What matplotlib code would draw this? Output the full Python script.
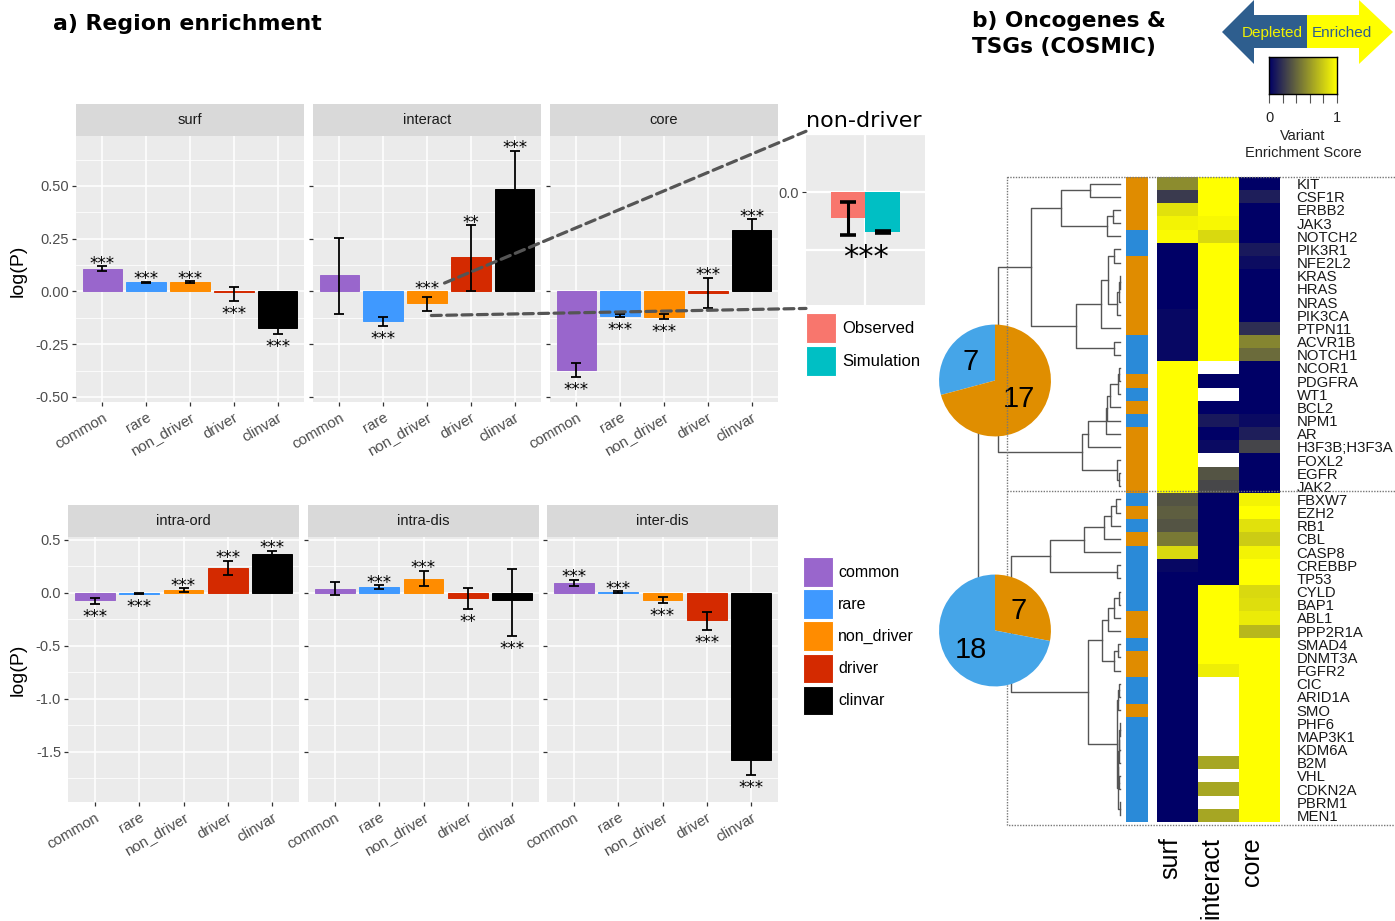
import numpy as np
import matplotlib
matplotlib.use('Agg')
import matplotlib.pyplot as plt
from matplotlib.colors import LinearSegmentedColormap, ListedColormap
from matplotlib.patches import Rectangle, Polygon, ConnectionPatch
from matplotlib.transforms import ScaledTranslation

W, H = 1395, 921
plt.rcParams['font.family'] = ['Liberation Sans', 'DejaVu Sans']

# ---------------- a) region enrichment data ----------------
categories = ['common', 'rare', 'non_driver', 'driver', 'clinvar']
cat_colors = ['#9966CC', '#3F99FF', '#FF8C00', '#D42A00', '#000000']

surf_val = [0.108, 0.044, 0.044, -0.003, -0.172]
surf_lo = [0.095, 0.041, 0.040, -0.046, -0.204]
surf_hi = [0.119, 0.047, 0.048, 0.021, -0.140]
surf_sig = ['***', '***', '***', '***', '***']
surf_side = ['up', 'up', 'up', 'down', 'down']

interact_val = [0.076, -0.138, -0.055, 0.163, 0.484]
interact_lo = [-0.106, -0.163, -0.092, 0.000, 0.302]
interact_hi = [0.253, -0.119, -0.024, 0.313, 0.666]
interact_sig = ['', '***', '***', '**', '***']
interact_side = ['up', 'down', 'up', 'up', 'up']

core_val = [-0.372, -0.114, -0.119, -0.005, 0.291]
core_lo = [-0.407, -0.122, -0.131, -0.078, 0.240]
core_hi = [-0.339, -0.108, -0.108, 0.066, 0.342]
core_sig = ['***', '***', '***', '***', '***']
core_side = ['down', 'down', 'down', 'up', 'up']

intra_ord_val = [-0.069, -0.006, 0.028, 0.236, 0.365]
intra_ord_lo = [-0.100, -0.012, 0.013, 0.173, 0.330]
intra_ord_hi = [-0.050, 0.000, 0.044, 0.305, 0.400]
intra_ord_sig = ['***', '***', '***', '***', '***']
intra_ord_side = ['down', 'down', 'up', 'up', 'up']

intra_dis_val = [0.041, 0.053, 0.129, -0.050, -0.069]
intra_dis_lo = [-0.019, 0.035, 0.063, -0.154, -0.409]
intra_dis_hi = [0.107, 0.072, 0.208, 0.044, 0.223]
intra_dis_sig = ['', '***', '***', '**', '***']
intra_dis_side = ['up', 'up', 'up', 'down', 'down']

inter_dis_val = [0.094, 0.009, -0.066, -0.258, -1.575]
inter_dis_lo = [0.069, 0.003, -0.097, -0.349, -1.720]
inter_dis_hi = [0.123, 0.015, -0.038, -0.176, -1.430]
inter_dis_sig = ['***', '***', '***', '***', '***']
inter_dis_side = ['up', 'up', 'down', 'down', 'down']

# non-driver, interact region: observed vs simulation
sim_groups = ['Observed', 'Simulation']
sim_colors = ['#F8766D', '#00BFC4']
sim_val = [-0.045, -0.069]
sim_lo = [-0.074, -0.071]
sim_hi = [-0.017, -0.067]

# ---------------- b) COSMIC genes ----------------
genes = ['KIT', 'CSF1R', 'ERBB2', 'JAK3', 'NOTCH2', 'PIK3R1', 'NFE2L2', 'KRAS',
         'HRAS', 'NRAS', 'PIK3CA', 'PTPN11', 'ACVR1B', 'NOTCH1', 'NCOR1', 'PDGFRA',
         'WT1', 'BCL2', 'NPM1', 'AR', 'H3F3B;H3F3A', 'FOXL2', 'EGFR', 'JAK2',
         'FBXW7', 'EZH2', 'RB1', 'CBL', 'CASP8', 'CREBBP', 'TP53', 'CYLD', 'BAP1',
         'ABL1', 'PPP2R1A', 'SMAD4', 'DNMT3A', 'FGFR2', 'CIC', 'ARID1A', 'SMO',
         'PHF6', 'MAP3K1', 'KDM6A', 'B2M', 'VHL', 'CDKN2A', 'PBRM1', 'MEN1']
roles = ['OG', 'OG', 'OG', 'OG', 'TSG', 'TSG', 'OG', 'OG',
         'OG', 'OG', 'OG', 'OG', 'TSG', 'TSG', 'TSG', 'OG',
         'TSG', 'OG', 'TSG', 'OG', 'OG', 'OG', 'OG', 'OG',
         'TSG', 'OG', 'TSG', 'OG', 'TSG', 'TSG', 'TSG', 'TSG', 'TSG',
         'OG', 'OG', 'TSG', 'OG', 'OG', 'TSG', 'TSG', 'OG',
         'TSG', 'TSG', 'TSG', 'TSG', 'TSG', 'TSG', 'TSG', 'TSG']
n_cluster1 = 24
nan = np.nan
surf_score = [0.55, 0.23, 0.88, 0.95, 0.98, 0.00, 0.00, 0.00,
              0.00, 0.00, 0.03, 0.03, 0.03, 0.03, 1.00, 1.00,
              1.00, 1.00, 1.00, 1.00, 1.00, 1.00, 1.00, 1.00,
              0.33, 0.37, 0.33, 0.48, 0.85, 0.03, 0.00, 0.00, 0.00,
              0.00, 0.00, 0.00, 0.00, 0.00, 0.00, 0.00, 0.00,
              0.00, 0.00, 0.00, 0.00, 0.00, 0.00, 0.00, 0.00]
interact_score = [1.00, 1.00, 1.00, 0.97, 0.85, 1.00, 1.00, 1.00,
                  1.00, 1.00, 1.00, 1.00, 1.00, 1.00, nan, 0.00,
                  nan, 0.00, 0.10, 0.00, 0.04, nan, 0.33, 0.28,
                  0.00, 0.00, 0.00, 0.00, 0.00, 0.00, 0.00, 1.00, 1.00,
                  1.00, 1.00, 1.00, 1.00, 0.93, nan, nan, nan,
                  nan, nan, nan, 0.65, nan, 0.65, nan, 0.65]
core_score = [0.00, 0.12, 0.00, 0.00, 0.00, 0.10, 0.05, 0.00,
              0.00, 0.00, 0.00, 0.18, 0.52, 0.42, 0.00, 0.00,
              0.00, 0.00, 0.04, 0.12, 0.27, 0.00, 0.00, 0.00,
              0.95, 1.00, 0.88, 0.80, 0.95, 1.00, 1.00, 0.85, 0.87,
              0.92, 0.72, 1.00, 1.00, 1.00, 1.00, 1.00, 1.00,
              1.00, 1.00, 1.00, 1.00, 1.00, 1.00, 1.00, 1.00]
score_columns = ['surf', 'interact', 'core']

# clustering tree: (left, right, merge height)
ras = ((('KRAS', 'HRAS', 0.005), 'NRAS', 0.015), 'PIK3CA', 0.03)
onc_a = (('KIT', 'CSF1R', 0.30), (('ERBB2', 'JAK3', 0.07), 'NOTCH2', 0.13), 0.59)
onc_b = (((('PIK3R1', 'NFE2L2', 0.06), ras, 0.12), 'PTPN11', 0.19),
         ('ACVR1B', 'NOTCH1', 0.06), 0.44)
nc = ((((('NCOR1', 'PDGFRA', 0.01), 'WT1', 0.02), 'BCL2', 0.10), 'NPM1', 0.13), 'AR', 0.14)
top_lower = ((nc, 'H3F3B;H3F3A', 0.32), ('FOXL2', ('EGFR', 'JAK2', 0.01), 0.03), 0.38)
cluster1 = ((onc_a, onc_b, 0.89), top_lower, 1.22)
fb = (((('FBXW7', 'EZH2', 0.04), 'RB1', 0.09), 'CBL', 0.16), 'CASP8', 0.36)
cy = ((('CYLD', 'BAP1', 0.01), 'ABL1', 0.06), 'PPP2R1A', 0.12)
sm = (('SMAD4', 'DNMT3A', 0.02), 'FGFR2', 0.06)
cic = ((('CIC', 'ARID1A', 0.01), 'SMO', 0.02),
       ((((('PHF6', 'MAP3K1', 0.005), 'KDM6A', 0.01), 'B2M', 0.015),
         ('VHL', 'CDKN2A', 0.01), 0.02), ('PBRM1', 'MEN1', 0.005), 0.025), 0.03)
cluster2 = ((fb, ('CREBBP', 'TP53', 0.03), 0.70), ((cy, sm, 0.18), cic, 0.32), 1.09)
tree = (cluster1, cluster2, 1.42)

# ---------------- layout helpers ----------------
fig = plt.figure(figsize=(W / 100, H / 100), dpi=100)


def px_axes(x0, y0, x1, y1, **kw):
    return fig.add_axes([x0 / W, 1 - y1 / H, (x1 - x0) / W, (y1 - y0) / H], **kw)


def strip(x0, x1, y0, y1, label):
    s = px_axes(x0, y0, x1, y1)
    s.set_facecolor('#D9D9D9')
    s.set_xticks([]); s.set_yticks([])
    for sp in s.spines.values():
        sp.set_visible(False)
    s.text(0.5, 0.5, label, ha='center', va='center', fontsize=10.5, color='#1A1A1A',
           transform=s.transAxes)


def bar_panel(ax, vals, lo, hi, sig, side, ylim, yt, ytl, yminor, show_y):
    x = np.arange(len(categories))
    vals, lo, hi = map(np.asarray, (vals, lo, hi))
    ax.set_facecolor('#EBEBEB')
    ax.set_axisbelow(True)
    ax.bar(x, vals, width=0.9, color=cat_colors, edgecolor=cat_colors, linewidth=0.7, zorder=2)
    ax.errorbar(x, vals, yerr=[vals - lo, hi - vals], fmt='none', ecolor='black',
                elinewidth=1.3, capsize=3.5, capthick=1.3, zorder=3)
    for i in range(len(x)):
        if not sig[i]:
            continue
        if side[i] == 'up':
            y, off = max(hi[i], vals[i], 0), 7
        else:
            y, off = min(lo[i], vals[i], 0), -8.5
        # asterisk ink sits roughly 9.5 px above the baseline
        ax.annotate(sig[i], (i, y), xytext=(0, (off - 9.5) * 0.72), textcoords='offset points',
                    ha='center', va='baseline', fontsize=12, family='DejaVu Sans', zorder=4)
    ax.set_xlim(-0.6, 4.6)
    ax.set_ylim(*ylim)
    ax.set_xticks(x)
    ax.set_xticklabels(categories, rotation=30, ha='right', rotation_mode='anchor',
                       fontsize=10.8, color='#4D4D4D')
    ax.set_yticks(yt)
    ax.set_yticks(yminor, minor=True)
    if show_y:
        ax.set_yticklabels(ytl, fontsize=10.5, color='#4D4D4D')
    else:
        ax.tick_params(axis='y', which='major', length=0, labelleft=False)
    ax.grid(which='major', color='white', linewidth=1.1)
    ax.grid(which='minor', axis='y', color='white', linewidth=0.55)
    ax.tick_params(which='major', length=3, width=0.9, color='#333333', pad=2)
    ax.tick_params(axis='x', pad=3)
    ax.tick_params(which='minor', length=0)
    for sp in ax.spines.values():
        sp.set_visible(False)


# ---------------- top row ----------------
top_series = [(surf_val, surf_lo, surf_hi, surf_sig, surf_side),
              (interact_val, interact_lo, interact_hi, interact_sig, interact_side),
              (core_val, core_lo, core_hi, core_sig, core_side)]
top_names = ['surf', 'interact', 'core']
top_x = [(76, 304), (313, 541), (550, 778)]
top_axes = []
for (x0, x1), name, ser in zip(top_x, top_names, top_series):
    strip(x0, x1, 104, 136, name)
    ax = px_axes(x0, 136, x1, 402)
    bar_panel(ax, *ser, ylim=(-0.524, 0.737), yt=[-0.5, -0.25, 0, 0.25, 0.5],
              ytl=['-0.50', '-0.25', '0.00', '0.25', '0.50'],
              yminor=[-0.375, -0.125, 0.125, 0.375, 0.625], show_y=(x0 == 76))
    top_axes.append(ax)

# ---------------- bottom row ----------------
bot_series = [(intra_ord_val, intra_ord_lo, intra_ord_hi, intra_ord_sig, intra_ord_side),
              (intra_dis_val, intra_dis_lo, intra_dis_hi, intra_dis_sig, intra_dis_side),
              (inter_dis_val, inter_dis_lo, inter_dis_hi, inter_dis_sig, inter_dis_side)]
bot_names = ['intra-ord', 'intra-dis', 'inter-dis']
bot_x = [(68, 299), (308, 539), (547, 778)]
for (x0, x1), name, ser in zip(bot_x, bot_names, bot_series):
    strip(x0, x1, 505, 537, name)
    ax = px_axes(x0, 537, x1, 802)
    bar_panel(ax, *ser, ylim=(-1.972, 0.528), yt=[-1.5, -1.0, -0.5, 0, 0.5],
              ytl=['-1.5', '-1.0', '-0.5', '0.0', '0.5'],
              yminor=[-1.75, -1.25, -0.75, -0.25, 0.25], show_y=(x0 == 68))

fig.text(18 / W, 1 - 271 / H, 'log(P)', rotation=90, ha='center', va='center', fontsize=14)
fig.text(18 / W, 1 - 670 / H, 'log(P)', rotation=90, ha='center', va='center', fontsize=14)

# ---------------- non-driver inset ----------------
ins = px_axes(806, 133, 925, 305)
ins.set_facecolor('#EBEBEB')
ins.set_axisbelow(True)
sx = np.array([0.825, 1.175])
sv, slo, shi = map(np.asarray, (sim_val, sim_lo, sim_hi))
ins.bar(sx, sv, width=0.35, color=sim_colors, zorder=2)
ins.errorbar(sx, sv, yerr=[sv - slo, shi - sv], fmt='none', ecolor='black',
             elinewidth=2.2, capsize=6, capthick=2.6, zorder=3)
ins.annotate('***', (1.0, slo.min()), xytext=(0, -31 * 0.72), textcoords='offset points',
             ha='center', va='baseline', fontsize=22, family='DejaVu Sans')
ins.set_xlim(0.4, 1.6)
ins.set_ylim(-0.195, 0.102)
ins.set_xticks([1.0])
ins.set_yticks([0.0])
ins.set_yticks([-0.1, 0.1], minor=True)
ins.set_yticklabels(['0.0'], fontsize=10.5, color='#4D4D4D')
ins.tick_params(axis='x', length=0, labelbottom=False)
ins.tick_params(axis='y', which='major', length=3, color='#333333', pad=2)
ins.tick_params(which='minor', length=0)
ins.grid(which='both', color='white', linewidth=1.6)
for sp in ins.spines.values():
    sp.set_visible(False)
fig.text(806 / W, 1 - 121 / H, 'non-driver', ha='left', va='center', fontsize=16,
         family='DejaVu Sans')

# dashed connectors from interact/non_driver to the inset
for xyA, xyB in [((2.4, 0.04), (0.0, 1.01)), ((2.1, -0.114), (0.0, -0.02))]:
    con = ConnectionPatch(xyA=xyA, coordsA=top_axes[1].transData, xyB=xyB,
                          coordsB=ins.transAxes, color='#555555', linewidth=2.3,
                          linestyle=(0, (3.1, 1.7)), zorder=10)
    fig.add_artist(con)

# ---------------- overlay for legends, box, arrows ----------------
ov = fig.add_axes([0, 0, 1, 1], zorder=5)
ov.set_xlim(0, W); ov.set_ylim(H, 0)
ov.axis('off')
ov.patch.set_alpha(0)

for i, (g, c) in enumerate(zip(sim_groups, sim_colors)):
    y0 = 313 + 33 * i
    ov.add_patch(Rectangle((806, y0), 30, 30, facecolor=c, edgecolor='white', lw=0.8))
    ov.text(842, y0 + 15, g, va='center', ha='left', fontsize=12)

for i, (g, c) in enumerate(zip(categories, cat_colors)):
    y0 = 557 + 32.2 * i
    ov.add_patch(Rectangle((803, y0), 29.5, 29.5, facecolor=c, edgecolor='white', lw=0.8))
    ov.text(838, y0 + 15, g, va='center', ha='left', fontsize=11.5)

fig.text(53 / W, 1 - 24 / H, 'a) Region enrichment', fontsize=15.8, fontweight='bold',
         family='DejaVu Sans', va='center', ha='left')
fig.text(972 / W, 1 - 21 / H, 'b) Oncogenes &', fontsize=15.6, fontweight='bold',
         family='DejaVu Sans', va='center', ha='left')
fig.text(972 / W, 1 - 47 / H, 'TSGs (COSMIC)', fontsize=15.6, fontweight='bold',
         family='DejaVu Sans', va='center', ha='left')

# dotted frames around the two gene clusters
ov.add_patch(Rectangle((1007, 177), 400, 648, fill=False, edgecolor='#777777',
                       linestyle=(0, (1, 1)), lw=1))
ov.plot([1007, 1400], [491, 491], color='#777777', linestyle=(0, (1, 1)), lw=1)

# depleted / enriched arrows
blue_arrow = '#2E5E8E'
ov.add_patch(Polygon([(1222, 32), (1254, 0), (1254, 15), (1307, 15), (1307, 48),
                      (1254, 48), (1254, 64)], closed=True, facecolor=blue_arrow, edgecolor='none'))
ov.add_patch(Polygon([(1307, 15), (1359, 15), (1359, 0), (1393, 32), (1359, 64),
                      (1359, 48), (1307, 48)], closed=True, facecolor='#FFFF00', edgecolor='none'))
ov.text(1272, 33, 'Depleted', color='#F2F200', ha='center', va='center', fontsize=11)
ov.text(1342, 33, 'Enriched', color=blue_arrow, ha='center', va='center', fontsize=11)
ov.text(1303, 136, 'Variant', ha='center', va='center', fontsize=10.5, color='#222222')
ov.text(1303, 153, 'Enrichment Score', ha='center', va='center', fontsize=10.5, color='#222222')

# ---------------- heatmap ----------------
score_cmap = LinearSegmentedColormap.from_list('score', ['#000066', '#FFFF00'])
score_cmap.set_bad('white')
scores = np.column_stack([surf_score, interact_score, core_score])
n = len(genes)

hm = px_axes(1157, 177, 1280, 822)
hm.imshow(np.ma.masked_invalid(scores), cmap=score_cmap, vmin=0, vmax=1, aspect='auto',
          interpolation='nearest')
hm.set_yticks(range(n))
hm.set_yticklabels(genes, fontsize=10.7, color='#1A1A1A')
hm.yaxis.tick_right()
hm.tick_params(axis='y', length=0, pad=12)
hm.set_xticks(range(3))
hm.set_xticklabels(score_columns, rotation=90, fontsize=18, va='top')
hm.tick_params(axis='x', length=0, pad=11)
shift = ScaledTranslation(-7 / 100, 0, fig.dpi_scale_trans)
for lbl in hm.get_xticklabels():
    lbl.set_transform(lbl.get_transform() + shift)
for sp in hm.spines.values():
    sp.set_visible(False)

role_colors = {'OG': '#E08C00', 'TSG': '#2A8AD8'}
side = px_axes(1126, 177, 1148, 822)
side.imshow(np.array([[r == 'TSG' for r in roles]]).T.astype(float),
            cmap=ListedColormap([role_colors['OG'], role_colors['TSG']]), vmin=0, vmax=1,
            aspect='auto', interpolation='nearest')
side.axis('off')

cb = px_axes(1269, 57, 1337, 94, zorder=6)
cb.imshow(np.linspace(0, 1, 256)[None, :], cmap=score_cmap, aspect='auto', extent=(0, 1, 0, 1))
cb.set_xticks(np.linspace(0, 1, 6))
cb.set_xticklabels(['0', '', '', '', '', '1'], fontsize=10.5, color='#222222')
cb.tick_params(axis='x', length=6.5, width=0.8, color='#555555', pad=6)
cb.set_yticks([])
for sp in cb.spines.values():
    sp.set_linewidth(1.0)

# ---------------- dendrogram ----------------
dn = px_axes(900, 177, 1122, 822, zorder=2)
dn.set_xlim(2.2, -0.02)
dn.set_ylim(n - 0.5, -0.5)
dn.axis('off')
dn.patch.set_alpha(0)


def draw_tree(node):
    if isinstance(node, str):
        return genes.index(node), 0.0
    left, right, h = node
    yl, hl = draw_tree(left)
    yr, hr = draw_tree(right)
    dn.plot([hl, h, h, hr], [yl, yl, yr, yr], color='#555555', lw=1)
    return (yl + yr) / 2, h


draw_tree(tree)

# ---------------- cluster composition pies ----------------
pie_colors = {'OG': '#E08E00', 'TSG': '#45A5E8'}
c1_roles, c2_roles = roles[:n_cluster1], roles[n_cluster1:]
p1 = px_axes(938, 324, 1052, 437, zorder=3)
p1.pie([c1_roles.count('TSG'), c1_roles.count('OG')],
       colors=[pie_colors['TSG'], pie_colors['OG']], startangle=90, counterclock=True,
       labels=[c1_roles.count('TSG'), c1_roles.count('OG')], labeldistance=0.55,
       textprops=dict(fontsize=21, ha='center', va='center'))
p2 = px_axes(938, 574, 1052, 687, zorder=7)
p2.pie([c2_roles.count('OG'), c2_roles.count('TSG')],
       colors=[pie_colors['OG'], pie_colors['TSG']], startangle=90, counterclock=False,
       labels=[c2_roles.count('OG'), c2_roles.count('TSG')], labeldistance=0.55,
       textprops=dict(fontsize=21, ha='center', va='center'))
for p in (p1, p2):
    p.set_xlim(-1.01, 1.01)
    p.set_ylim(-1.01, 1.01)

fig.savefig('out.png', dpi=100)
